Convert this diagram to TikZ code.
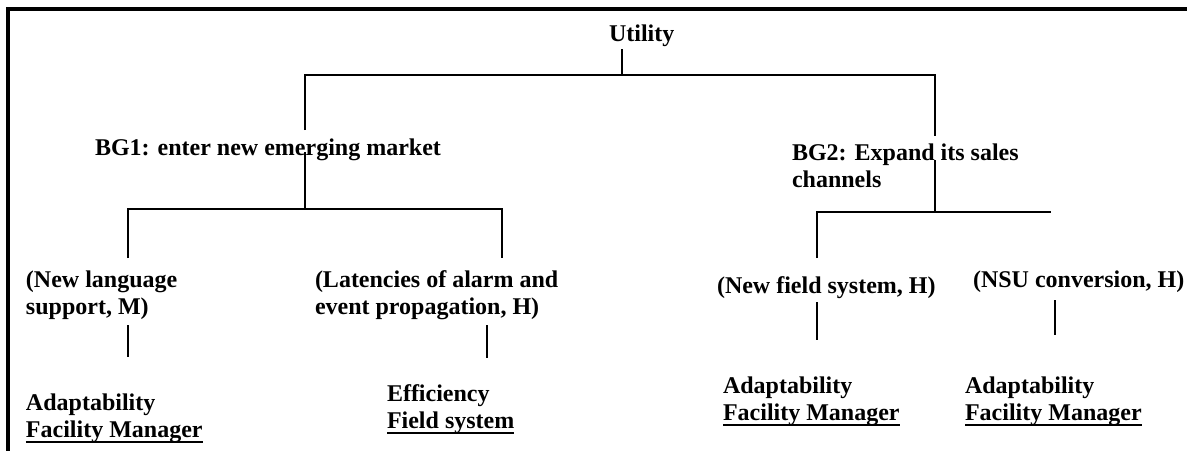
\documentclass[tikz,border=0pt]{standalone}
\usepackage{fontspec}
\setmainfont{Liberation Serif}
\newsavebox\myulbox
\newcommand\myul[1]{\sbox\myulbox{#1}\rlap{\rule[-4.5pt]{\wd\myulbox}{1.5pt}}\usebox\myulbox}
\begin{document}
\begin{tikzpicture}[x=0.75pt,y=-0.75pt,
  lbl/.style={anchor=base west,inner sep=0pt,outer sep=0pt,
    font=\fontsize{18}{20}\selectfont\bfseries,align=left},
  ln/.style={line width=1.5pt},
  frame/.style={line width=3pt}]
\useasboundingbox (0,0) rectangle (1187,450);
\clip (0,0) rectangle (1187,450);
% frame
\coordinate (fb) at (8,455);
\coordinate (fc) at (8,9);
\coordinate (fr) at (1192,9);
\draw[frame] (fb) -- (fc) -- (fr);

% text nodes (base = baseline of last line)
\node[lbl] (util) at (609,41) {Utility};
\node[lbl] (bg1) at (95,155) {BG1: enter new emerging market};
\node[lbl] (bg2) at (792,187) {BG2: Expand its sales\\channels};
\node[lbl] (lang) at (26,314) {(New language\\support, M)};
\node[lbl] (lat) at (315,314) {(Latencies of alarm and\\event propagation, H)};
\node[lbl] (nfs) at (717,293) {(New field system, H)};
\node[lbl] (nsu) at (973,287) {(NSU conversion, H)};
\node[lbl] (q1) at (26,437) {Adaptability\\\myul{Facility Manager}};
\node[lbl] (q2) at (387,428) {Efficiency\\\myul{Field system}};
\node[lbl] (q3) at (723,420) {Adaptability\\\myul{Facility Manager}};
\node[lbl] (q4) at (965,420) {Adaptability\\\myul{Facility Manager}};

% junction / end coordinates
\coordinate (u0) at (622,49);
\coordinate (h0) at (622,75);
\coordinate (b1top) at (305,130);
\coordinate (b1bot) at (305,152);
\coordinate (h1) at (305,209);
\coordinate (b2top) at (935,136);
\coordinate (b2bot) at (935,160);
\coordinate (h2) at (935,212);
\coordinate (langtop) at (128,258);
\coordinate (lattop) at (502,258);
\coordinate (nfstop) at (817,258);
\coordinate (h2end) at (1051,212);
\coordinate (langbot) at (128,325);
\coordinate (q1top) at (128,357);
\coordinate (latbot) at (487,325);
\coordinate (q2top) at (487,358);
\coordinate (nfsbot) at (817,302);
\coordinate (q3top) at (817,340);
\coordinate (nsubot) at (1055,300);
\coordinate (q4top) at (1055,335);

% connectors
\draw[ln] (u0) -- (h0);
\draw[ln] (b1top) |- (h0) -| (b2top);
\draw[ln] (b1bot) -- (h1);
\draw[ln] (langtop) |- (h1) -| (lattop);
\draw[ln] (b2bot) -- (h2);
\draw[ln] (nfstop) |- (h2) -- (h2end);
\draw[ln] (langbot) -- (q1top);
\draw[ln] (latbot) -- (q2top);
\draw[ln] (nfsbot) -- (q3top);
\draw[ln] (nsubot) -- (q4top);
\end{tikzpicture}
\end{document}
